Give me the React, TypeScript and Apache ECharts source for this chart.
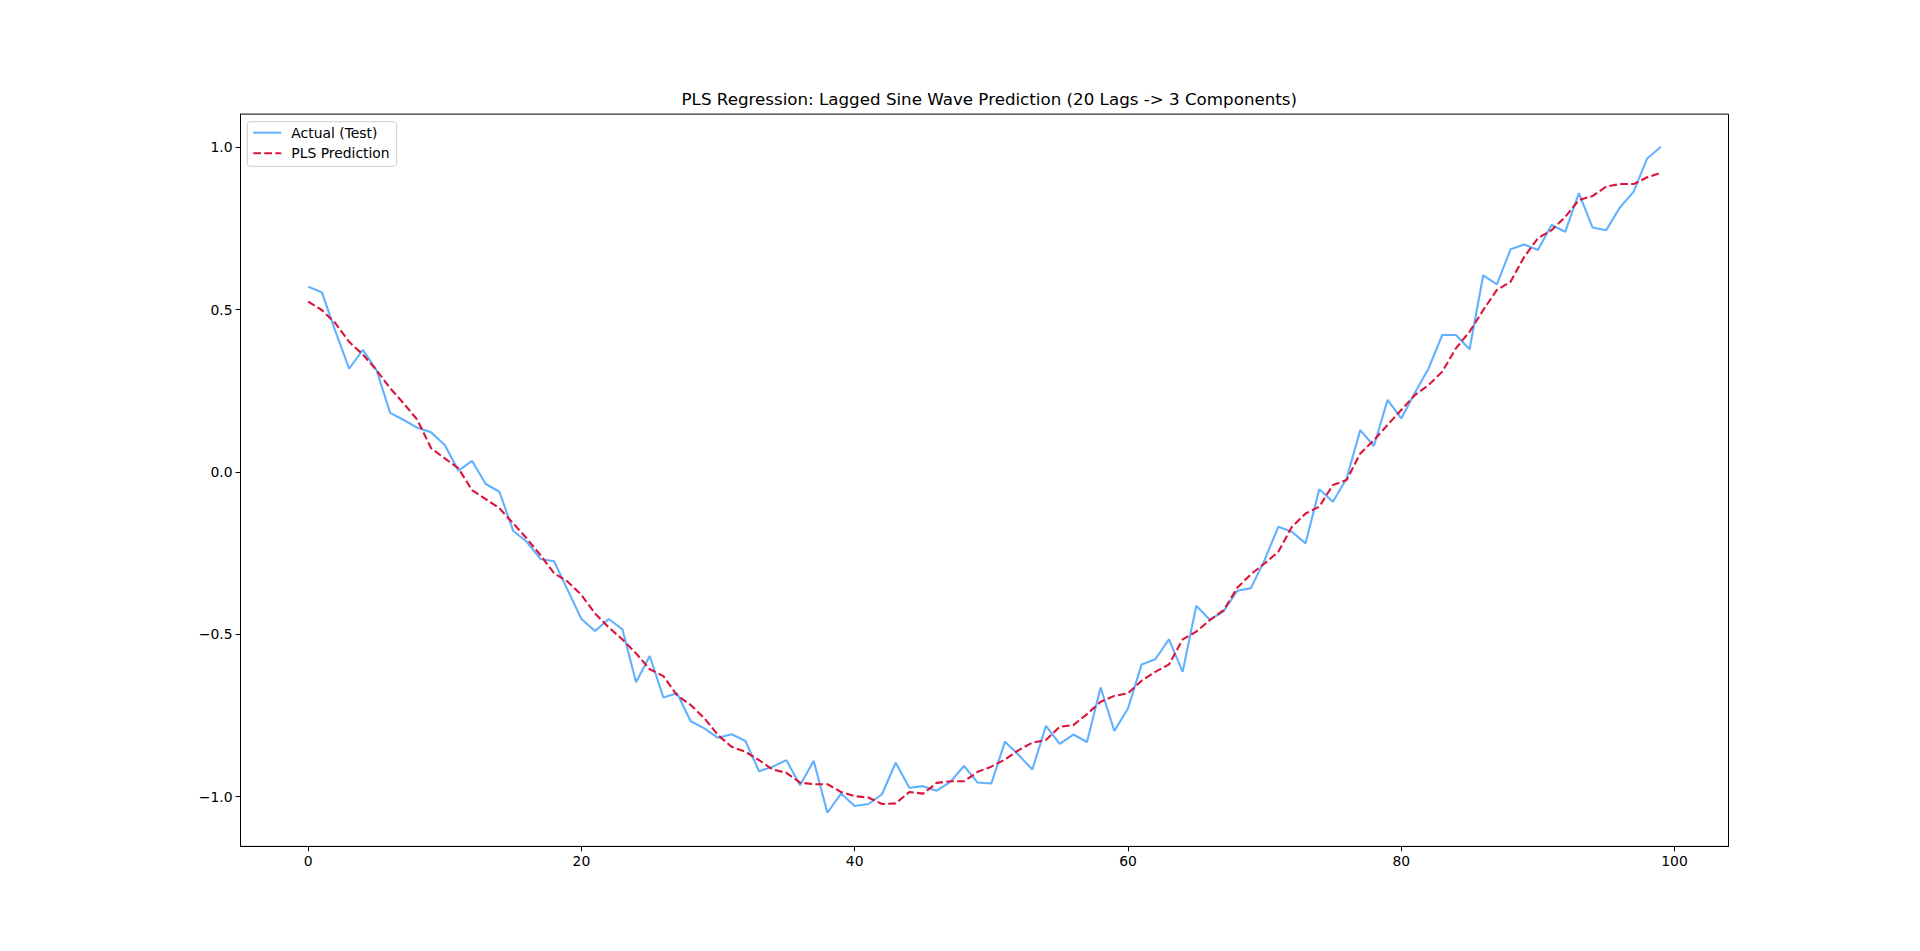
import React, { useEffect, useRef } from "react";
import * as echarts from "echarts";

const titleText = "PLS Regression: Lagged Sine Wave Prediction (20 Lags -> 3 Components)";
const seriesNames = ["Actual (Test)", "PLS Prediction"];

const actual = [
  0.571, 0.554, 0.433, 0.318, 0.376, 0.314, 0.182, 0.160, 0.136, 0.122,
  0.083, 0.004, 0.034, -0.037, -0.061, -0.181, -0.215, -0.268, -0.275, -0.364,
  -0.453, -0.490, -0.453, -0.485, -0.648, -0.567, -0.695, -0.682, -0.768, -0.790,
  -0.819, -0.808, -0.829, -0.922, -0.908, -0.888, -0.965, -0.890, -1.050, -0.991,
  -1.029, -1.023, -0.993, -0.896, -0.973, -0.968, -0.982, -0.955, -0.906, -0.957,
  -0.960, -0.831, -0.872, -0.917, -0.782, -0.838, -0.809, -0.832, -0.664, -0.798,
  -0.729, -0.593, -0.577, -0.516, -0.616, -0.412, -0.456, -0.429, -0.366, -0.358,
  -0.271, -0.169, -0.184, -0.220, -0.053, -0.092, -0.020, 0.129, 0.080, 0.222,
  0.165, 0.244, 0.319, 0.422, 0.422, 0.378, 0.606, 0.578, 0.686, 0.701,
  0.684, 0.761, 0.740, 0.859, 0.753, 0.745, 0.815, 0.863, 0.966, 1.002,
];

const predicted = [
  0.525, 0.499, 0.458, 0.401, 0.362, 0.314, 0.258, 0.211, 0.160, 0.073,
  0.042, 0.011, -0.056, -0.084, -0.112, -0.158, -0.205, -0.256, -0.312, -0.338,
  -0.379, -0.436, -0.479, -0.516, -0.559, -0.608, -0.629, -0.688, -0.718, -0.759,
  -0.811, -0.847, -0.862, -0.888, -0.917, -0.927, -0.957, -0.962, -0.962, -0.986,
  -0.999, -1.003, -1.023, -1.021, -0.986, -0.991, -0.958, -0.953, -0.953, -0.924,
  -0.908, -0.886, -0.857, -0.834, -0.826, -0.785, -0.780, -0.746, -0.708, -0.690,
  -0.682, -0.643, -0.616, -0.593, -0.516, -0.492, -0.456, -0.426, -0.357, -0.315,
  -0.282, -0.246, -0.169, -0.128, -0.107, -0.040, -0.025, 0.057, 0.098, 0.145,
  0.191, 0.237, 0.268, 0.309, 0.381, 0.432, 0.499, 0.561, 0.586, 0.663,
  0.720, 0.745, 0.786, 0.838, 0.850, 0.879, 0.887, 0.887, 0.908, 0.922,
];

const xTicks = [0, 20, 40, 60, 80, 100];
const yTicks = [-1.0, -0.5, 0.0, 0.5, 1.0];

const FONT = "DejaVu Sans";

export default function App() {
  const ref = useRef<HTMLDivElement>(null);
  useEffect(() => {
    if (!ref.current) return;
    const chart = echarts.init(ref.current, null, { renderer: "svg" });
    const actualData = actual.map((v, i) => [i, v]);
    const predData = predicted.map((v, i) => [i, v]);
    const fmtY = (v: number) => {
      const s = Math.abs(v).toFixed(1);
      return v < 0 ? "\u2212" + s : s;
    };
    chart.setOption({
      animation: false,
      backgroundColor: "#ffffff",
      textStyle: { fontFamily: FONT },
      title: {
        text: titleText,
        left: 984.3,
        textAlign: "center",
        top: 85.5,
        textStyle: { fontFamily: FONT, fontSize: 16.7, fontWeight: "normal", color: "#000" },
      },
      legend: {
        orient: "vertical",
        left: 247.3,
        top: 121.7,
        itemWidth: 28,
        itemHeight: 14,
        itemGap: 6.6,
        padding: [4, 7, 6, 5],
        borderColor: "#cccccc",
        borderWidth: 1,
        borderRadius: 3,
        backgroundColor: "rgba(255,255,255,0.8)",
        itemStyle: { opacity: 0 },
        textStyle: { fontFamily: FONT, fontSize: 13.9, color: "#000", padding: [0, 0, 0, 5] },
        data: seriesNames,
      },
      grid: {
        left: 240.5,
        right: 191.5,
        top: 114.1,
        bottom: 104.6,
        show: true,
        borderColor: "#000",
        borderWidth: 1,
        backgroundColor: "transparent",
        containLabel: false,
      },
      xAxis: {
        type: "value",
        min: -4.95,
        max: 103.95,
        splitLine: { show: false },
        axisLine: { show: true, onZero: false, lineStyle: { color: "#000", width: 1 } },
        axisTick: { show: true, length: 4.9, lineStyle: { color: "#000", width: 1 }, customValues: xTicks },
        axisLabel: {
          show: true,
          margin: 8,
          color: "#000",
          fontFamily: FONT,
          fontSize: 13.9,
          customValues: xTicks,
          formatter: (v: number) => String(v),
        },
      },
      yAxis: {
        type: "value",
        min: -1.1537,
        max: 1.1026,
        splitLine: { show: false },
        axisLine: { show: true, onZero: false, lineStyle: { color: "#000", width: 1 } },
        axisTick: { show: true, length: 4.9, lineStyle: { color: "#000", width: 1 }, customValues: yTicks },
        axisLabel: {
          show: true,
          margin: 8,
          color: "#000",
          fontFamily: FONT,
          fontSize: 13.9,
          customValues: yTicks,
          formatter: fmtY,
        },
      },
      series: [
        {
          name: seriesNames[0],
          type: "line",
          data: actualData,
          showSymbol: false,
          symbol: "none",
          lineStyle: { color: "#61b1ff", width: 2.1 },
          itemStyle: { color: "#61b1ff" },
          z: 2,
        },
        {
          name: seriesNames[1],
          type: "line",
          data: predData,
          showSymbol: false,
          symbol: "none",
          lineStyle: { color: "#dc143c", width: 2.1, type: [7.7, 3.3] },
          itemStyle: { color: "#dc143c" },
          z: 3,
        },
      ],
    });
    return () => chart.dispose();
  }, []);
  return (
    <div
      ref={ref}
      style={{ position: "fixed", left: 0, top: 0, width: "1920px", height: "951px", background: "#fff" }}
    />
  );
}
